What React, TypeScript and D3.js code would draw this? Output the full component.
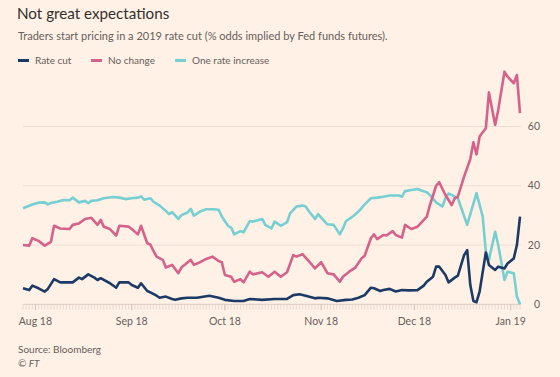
import React from "react";
import * as d3 from "d3";

// day offsets from 1 Aug 2018, value in % odds
const rateCut: [number, number][] = [
  [-4, 5.4], [-2, 4.8], [-1, 6.3], [1, 5.4], [3, 4.3], [4, 5.2], [6, 8.5], [8, 7.4], [12, 7.4],
  [14, 9], [15, 8.5], [17, 10.1], [19, 9], [20, 8.2], [21, 8.8], [24, 7.1], [26, 5.6], [27, 7.4],
  [30, 7.4], [31, 6.5], [33, 5.6], [34, 7.1], [36, 4.5], [37, 4], [39, 2.9], [40, 2.2], [42, 2.6],
  [44, 1.8], [45, 1.5], [47, 2], [49, 2.2], [52, 2.2], [56, 2.9], [59, 2.2], [61, 1.5], [64, 1.1],
  [67, 1.1], [69, 1.8], [73, 1.5], [77, 1.8], [81, 1.8], [83, 3.1], [85, 3.4], [87, 2.9], [90, 2],
  [91, 2.2], [94, 2], [97, 1.1], [100, 1.5], [102, 1.6], [104, 2.2], [106, 3.1], [108, 5.6],
  [109, 5.4], [111, 4.5], [112, 4.8], [114, 5.2], [116, 4.3], [118, 4.8], [120, 4.7], [123, 4.8],
  [125, 6.3], [126, 7.6], [128, 9.3], [129, 12.7], [130, 12.7], [132, 9.9], [133, 7.4], [135, 9],
  [136, 9.7], [138, 16.6], [139, 18.3], [140, 6.5], [141, 1.1], [142, 0.7], [143, 4.3], [145, 17.5],
  [146, 13.3], [148, 11.6], [149, 12.7], [151, 12.1], [152, 13.8], [154, 15.5], [155, 20], [156, 29.6],
];

const noChange: [number, number][] = [
  [-4, 20], [-2, 19.8], [-1, 22.3], [1, 21.4], [3, 19.8], [5, 21.1], [6, 26.5], [8, 25.6], [11, 25.4],
  [12, 26.8], [14, 27.3], [16, 28.8], [18, 29.2], [20, 26.8], [21, 28.5], [22, 26.2], [24, 25.4],
  [26, 23.2], [27, 26.5], [30, 26.2], [31, 25.4], [33, 23.6], [34, 26.5], [36, 20.6], [37, 20.2],
  [38, 18], [39, 16.1], [41, 15], [42, 12.4], [44, 13.3], [46, 10.5], [47, 12.4], [48, 13.3],
  [50, 15], [51, 13.3], [53, 14.2], [55, 15.3], [57, 16.1], [59, 14.6], [60, 14.2], [61, 9.9],
  [63, 9.3], [64, 7.6], [66, 8.5], [67, 7.4], [69, 11], [70, 10.1], [73, 10.8], [75, 9.3], [77, 11],
  [79, 9.3], [81, 10.8], [83, 16.6], [84, 16.1], [86, 16.9], [88, 14.6], [90, 12.1], [92, 14.2],
  [94, 10.5], [96, 10.1], [98, 7.6], [99, 9.3], [101, 11], [103, 12.4], [105, 15.5], [106, 16.4],
  [108, 22.3], [109, 23.6], [110, 22], [112, 23.4], [113, 23.2], [115, 24.7], [116, 23.4],
  [118, 22.5], [119, 26.8], [121, 25.4], [123, 26.2], [124, 27.3], [126, 29.6], [127, 33.5],
  [129, 40], [130, 41.2], [132, 36.9], [134, 33.5], [135, 35.8], [136, 36.3], [138, 43.1],
  [140, 49], [141, 54.7], [142, 50.6], [143, 56.6], [145, 59.4], [146, 71.5], [148, 60.5],
  [149, 65.6], [151, 78.5], [152, 76.8], [154, 74.6], [155, 77.4], [156, 64.5],
];

const oneIncrease: [number, number][] = [
  [-4, 32.4], [-1, 33.7], [1, 34.3], [3, 34.4], [4, 33.7], [5, 34.2], [7, 34.6], [9, 35.2], [11, 35.1],
  [12, 36], [14, 34.4], [16, 34.9], [17, 34.1], [18, 34.9], [20, 35.1], [22, 35.8], [25, 36.2],
  [27, 36], [29, 35.5], [31, 35.8], [33, 36], [34, 36.4], [35, 35.3], [37, 35.8], [38, 34.6],
  [40, 33.3], [42, 31.5], [43, 30.4], [44, 31.1], [46, 28.8], [47, 30.1], [49, 31], [50, 32.2],
  [51, 29.9], [53, 31.3], [55, 32.1], [57, 32.1], [59, 31.9], [60, 29.6], [62, 26.5], [63, 25.9],
  [64, 23.6], [66, 24.7], [67, 24.3], [69, 28.1], [70, 27.9], [73, 28.8], [74, 26.8], [76, 25.6],
  [77, 27.9], [79, 26.5], [81, 27.7], [82, 30.7], [84, 33], [86, 33.3], [87, 33], [88, 31.5],
  [90, 28.8], [91, 30.4], [93, 28.1], [94, 27], [96, 26.8], [98, 23.6], [99, 25.6], [100, 28.1],
  [102, 29.5], [104, 31.3], [106, 33.7], [108, 35.8], [110, 36], [112, 36.3], [114, 36.7],
  [117, 36.7], [118, 36.3], [119, 38.2], [121, 38.6], [123, 38.9], [124, 38.5], [126, 37.8],
  [127, 36.9], [129, 34.4], [131, 33], [132, 35.8], [133, 37.4], [136, 35.8], [139, 26.8],
  [142, 37.5], [144, 29.6], [145, 17.8], [146, 15], [148, 24.5], [149, 20], [151, 8.2], [152, 11],
  [154, 10.5], [155, 2.6], [156, 0],
];

const yTicks = [0, 20, 40, 60];
const legendLabels = ["Rate cut", "No change", "One rate increase"];
const colors = ["#1b3a66", "#d4628b", "#76cfd2"];
const baseDate = new Date(2018, 7, 1);

const W = 560;
const H = 377;
const FONT = "Lato, 'Open Sans', sans-serif";

export default function App() {
  const toDate = (d: number) => d3.timeDay.offset(baseDate, d);
  const startDate = toDate(-4);
  const endDate = toDate(156);
  const x = d3.scaleTime().domain([startDate, endDate]).range([23, 520]);
  const y = d3.scaleLinear().domain([0, 60]).range([304.3, 126.5]);

  const line = d3
    .line<[number, number]>()
    .x((p) => x(toDate(p[0])))
    .y((p) => y(p[1]));

  const series = [rateCut, noChange, oneIncrease];
  const drawOrder = [2, 1, 0];
  const monthTicks = d3.timeMonth.range(d3.timeMonth.ceil(startDate), d3.timeDay.offset(endDate, 1));
  const dayTicks = d3.timeDay.range(startDate, d3.timeDay.offset(endDate, 1));
  const fmt = d3.timeFormat("%b %y");

  const legendX = [18, 91, 175];

  return (
    <>
      <style>{`body{margin:0;background:#fff1e5}`}</style>
      <svg width={W} height={H} style={{ display: "block", background: "#fff1e5" }} fontFamily={FONT}>
        <rect width={W} height={H} fill="#fff1e5" />
        <text x={17} y={19} fontSize={15.2} fill="#33302e">Not great expectations</text>
        <text x={18} y={40} fontSize={11} fill="#66605c">
          Traders start pricing in a 2019 rate cut (% odds implied by Fed funds futures).
        </text>
        {legendLabels.map((l, i) => (
          <g key={l}>
            <line x1={legendX[i]} x2={legendX[i] + 11} y1={60.5} y2={60.5} stroke={colors[i]} strokeWidth={3} />
            <text x={legendX[i] + 17} y={64} fontSize={10} fill="#66605c">{l}</text>
          </g>
        ))}
        {yTicks.map((t) => (
          <g key={t}>
            <line x1={23} x2={521} y1={y(t)} y2={y(t)} stroke={t === 0 ? "#d9ccc1" : "#eadfd5"} strokeWidth={1} />
            <text x={540} y={y(t)} dy="0.35em" textAnchor="end" fontSize={10.5} fill="#66605c">{t}</text>
          </g>
        ))}
        {dayTicks.map((d, i) => (
          <line key={i} x1={x(d)} x2={x(d)} y1={y(0)} y2={y(0) + 5} stroke="#e0d3c8" strokeWidth={0.8} />
        ))}
        {monthTicks.map((m, i) => (
          <g key={i}>
            <line x1={x(m)} x2={x(m)} y1={y(0)} y2={y(0) + 6} stroke="#d2c4b8" strokeWidth={1} />
            <text x={x(m)} y={325} textAnchor="middle" fontSize={10.5} fill="#66605c">{fmt(m)}</text>
          </g>
        ))}
        {drawOrder.map((i) => (
          <path key={i} d={line(series[i]) || ""} fill="none" stroke={colors[i]} strokeWidth={2.6} strokeLinejoin="round" />
        ))}
        <text x={18} y={353} fontSize={10} fill="#66605c">Source: Bloomberg</text>
        <text x={18} y={366.5} fontSize={10} fill="#66605c" fontStyle="italic">© FT</text>
      </svg>
    </>
  );
}
